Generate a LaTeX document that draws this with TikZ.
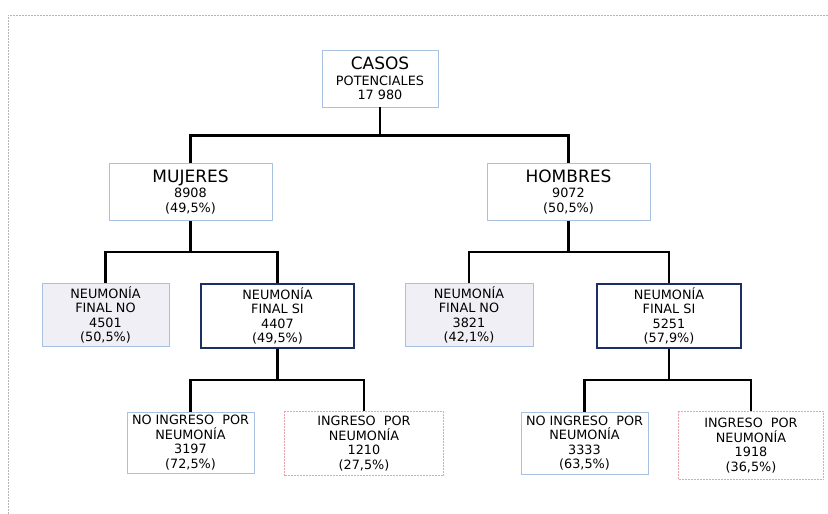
\documentclass[tikz,border=0pt]{standalone}
\usepackage{fontspec}
\setmainfont{DejaVu Sans}
\usetikzlibrary{calc}

\definecolor{paleblue}{HTML}{A9C1E0}
\definecolor{lavender}{HTML}{F1EFF6}
\definecolor{navy}{HTML}{1B2F66}
\definecolor{rosy}{HTML}{E9A3AB}
\definecolor{framegray}{HTML}{B4B4B4}

\newcommand{\bigline}[1]{{\fontsize{17}{18}\selectfont #1}}

\tikzset{
  basebox/.style={rectangle, inner sep=0pt, align=center, text=black,
    font=\fontsize{12.8}{14.4}\selectfont},
  plainbox/.style={basebox, draw=paleblue, line width=0.9pt, fill=white},
  nobox/.style={plainbox, fill=lavender},
  sibox/.style={basebox, draw=navy, line width=2.4pt, fill=white},
  ingbox/.style={basebox, draw=rosy, line width=1.8pt, dash pattern=on 2pt off 1pt, fill=white},
  conn/.style={draw=black, line width=2.6pt},
  framing/.style={draw=framegray, line width=0.7pt, dash pattern=on 2pt off 1pt}
}

\begin{document}
\begin{tikzpicture}[x=1pt, y=-1pt]
  \useasboundingbox (0,0) rectangle (828,514);

  % dashed page frame (top and left edges)
  \draw[framing] (828,15) -- (8,15) -- (8,514);

  % level 0
  \node[plainbox, minimum width=116pt, minimum height=57pt] (casos) at (380,78.5)
    {\bigline{CASOS}\\[1.5pt]POTENCIALES\\17 980};

  % level 1
  \node[plainbox, minimum width=163pt, minimum height=57pt] (muj) at (190.5,192)
    {\bigline{MUJERES}\\[0.5pt]8908\\(49,5\%)};
  \node[plainbox, minimum width=163pt, minimum height=57pt] (hom) at (568.5,192)
    {\bigline{HOMBRES}\\[0.5pt]9072\\(50,5\%)};

  % level 2
  \node[nobox, minimum width=127pt, minimum height=63pt] (mno) at (105.5,315)
    {NEUMONÍA\\FINAL NO\\4501\\(50,5\%)};
  \node[sibox, minimum width=153pt, minimum height=64pt] (msi) at (277.5,316)
    {NEUMONÍA\\FINAL SI\\4407\\(49,5\%)};
  \node[nobox, minimum width=128pt, minimum height=63pt] (hno) at (469,315)
    {NEUMONÍA\\FINAL NO\\3821\\(42,1\%)};
  \node[sibox, minimum width=144pt, minimum height=64pt] (hsi) at (669,316)
    {NEUMONÍA\\FINAL SI\\5251\\(57,9\%)};

  % level 3
  \node[plainbox, minimum width=127pt, minimum height=61pt] (mnoi) at (190.5,442.5)
    {NO INGRESO\ \ POR\\NEUMONÍA\\3197\\(72,5\%)};
  \node[ingbox, minimum width=159pt, minimum height=64pt] (mi) at (364,443.5)
    {INGRESO\ \ POR\\NEUMONÍA\\1210\\(27,5\%)};
  \node[plainbox, minimum width=127pt, minimum height=62pt] (hnoi) at (584.5,443)
    {NO INGRESO\ \ POR\\NEUMONÍA\\3333\\(63,5\%)};
  \node[ingbox, minimum width=145pt, minimum height=68pt] (hi) at (751,445.5)
    {INGRESO\ \ POR\\NEUMONÍA\\1918\\(36,5\%)};

  % branch levels
  \path (casos.south) -- (muj.north) coordinate[pos=.5] (b0);
  \path (muj.south) -- (mno.north) coordinate[pos=.5] (b1);
  \path (msi.south) -- (mi.north) coordinate[pos=.5] (b2);

  % connectors
  \draw[conn] (casos.south) -- (casos.south |- b0);
  \draw[conn] (muj.north) -- (muj.north |- b0) -- (hom.north |- b0) -- (hom.north);

  \draw[conn] (muj.south) -- (muj.south |- b1);
  \draw[conn] (mno.north) -- (mno.north |- b1) -- (msi.north |- b1) -- (msi.north);
  \draw[conn] (hom.south) -- (hom.south |- b1);
  \draw[conn] (hno.north) -- (hno.north |- b1) -- (hsi.north |- b1) -- (hsi.north);

  \draw[conn] (msi.south) -- (msi.south |- b2);
  \draw[conn] (mnoi.north) -- (mnoi.north |- b2) -- (mi.north |- b2) -- (mi.north);
  \draw[conn] (hsi.south) -- (hsi.south |- b2);
  \draw[conn] (hnoi.north) -- (hnoi.north |- b2) -- (hi.north |- b2) -- (hi.north);
\end{tikzpicture}
\end{document}
